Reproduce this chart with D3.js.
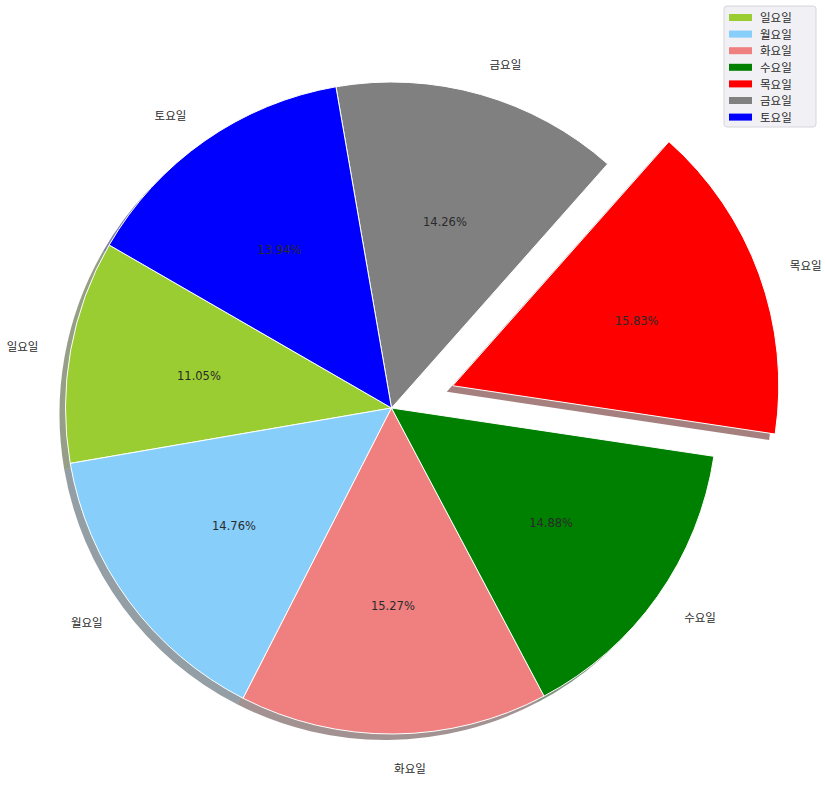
<!DOCTYPE html>
<html><head><meta charset="utf-8">
<script src="https://cdn.jsdelivr.net/npm/d3@7"></script>
<style>body{margin:0;background:#fff}svg{display:block}text{font-family:"DejaVu Sans","Noto Sans CJK KR",sans-serif}</style>
</head><body>
<script>
const categories = ["일요일","월요일","화요일","수요일","목요일","금요일","토요일"];
const values = [11.05,14.76,15.27,14.88,15.83,14.26,13.94];
const colors = ["yellowgreen","lightskyblue","lightcoral","green","red","gray","blue"];
const explode = [0,0,0,0,0.2,0,0];
const startAngleDeg = 150;

const W = 826, H = 798;
const cx = 391.5, cy = 408, R = 326;
const svg = d3.select("body").append("svg").attr("width",W).attr("height",H);

const total = d3.sum(values);
const scale = d3.scaleLinear().domain([0,total]).range([0,360]);
let cum = 0;
const slices = values.map((v,i)=>{
  const a0 = startAngleDeg + scale(cum); cum += v;
  const a1 = startAngleDeg + scale(cum);
  return {i, v, a0, a1, mid:(a0+a1)/2};
});
const toD3 = deg => (90 - deg) * Math.PI/180;
const arc = d3.arc().innerRadius(0).outerRadius(R);
function offs(s){ const m = s.mid*Math.PI/180; return [explode[s.i]*R*Math.cos(m), -explode[s.i]*R*Math.sin(m)]; }
function pathFor(s){ return arc({startAngle:toD3(s.a1), endAngle:toD3(s.a0)}); }

const sh = 6;
const gS = svg.append("g");
slices.forEach(s=>{
  const [ox,oy]=offs(s);
  const c = d3.rgb(colors[s.i]);
  const dc = d3.rgb(c.r*0.3,c.g*0.3,c.b*0.3);
  gS.append("path").attr("d",pathFor(s))
    .attr("transform",`translate(${cx+ox-sh},${cy+oy+sh})`)
    .attr("fill",dc).attr("fill-opacity",0.5);
});
const gW = svg.append("g");
slices.forEach(s=>{
  const [ox,oy]=offs(s);
  gW.append("path").attr("d",pathFor(s))
    .attr("transform",`translate(${cx+ox},${cy+oy})`)
    .attr("fill",colors[s.i]).attr("stroke","#fff").attr("stroke-width",1).attr("stroke-linejoin","round");
});
const gT = svg.append("g");
slices.forEach(s=>{
  const [ox,oy]=offs(s);
  const m = s.mid*Math.PI/180;
  const lx = cx+ox+1.1*R*Math.cos(m), ly = cy+oy-1.1*R*Math.sin(m);
  gT.append("text").attr("x",lx).attr("y",ly).attr("dy","0.55em")
    .attr("text-anchor", Math.cos(m)>0?"start":"end")
    .attr("font-size",11.5).attr("fill","#2a2a2a").text(categories[s.i]);
  const px = cx+ox+0.6*R*Math.cos(m), py = cy+oy-0.6*R*Math.sin(m);
  gT.append("text").attr("x",px).attr("y",py).attr("dy","0.55em")
    .attr("text-anchor","middle").attr("font-size",11.5).attr("fill","#2a2a2a")
    .text(d3.format(".2f")(s.v/total*100)+"%");
});
const lg = svg.append("g").attr("transform","translate(724,6)");
lg.append("rect").attr("x",0).attr("y",0).attr("width",92).attr("height",121).attr("rx",3)
  .attr("fill","#eeeef4").attr("fill-opacity",0.9).attr("stroke","#d6d6dc");
categories.forEach((c,i)=>{
  const y = 11.5 + i*16.6;
  lg.append("rect").attr("x",5).attr("y",y-3.5).attr("width",23).attr("height",7).attr("fill",colors[i]);
  lg.append("text").attr("x",36).attr("y",y).attr("dy","0.4em").attr("font-size",11.5).attr("fill","#2a2a2a").text(c);
});
</script>
</body></html>
